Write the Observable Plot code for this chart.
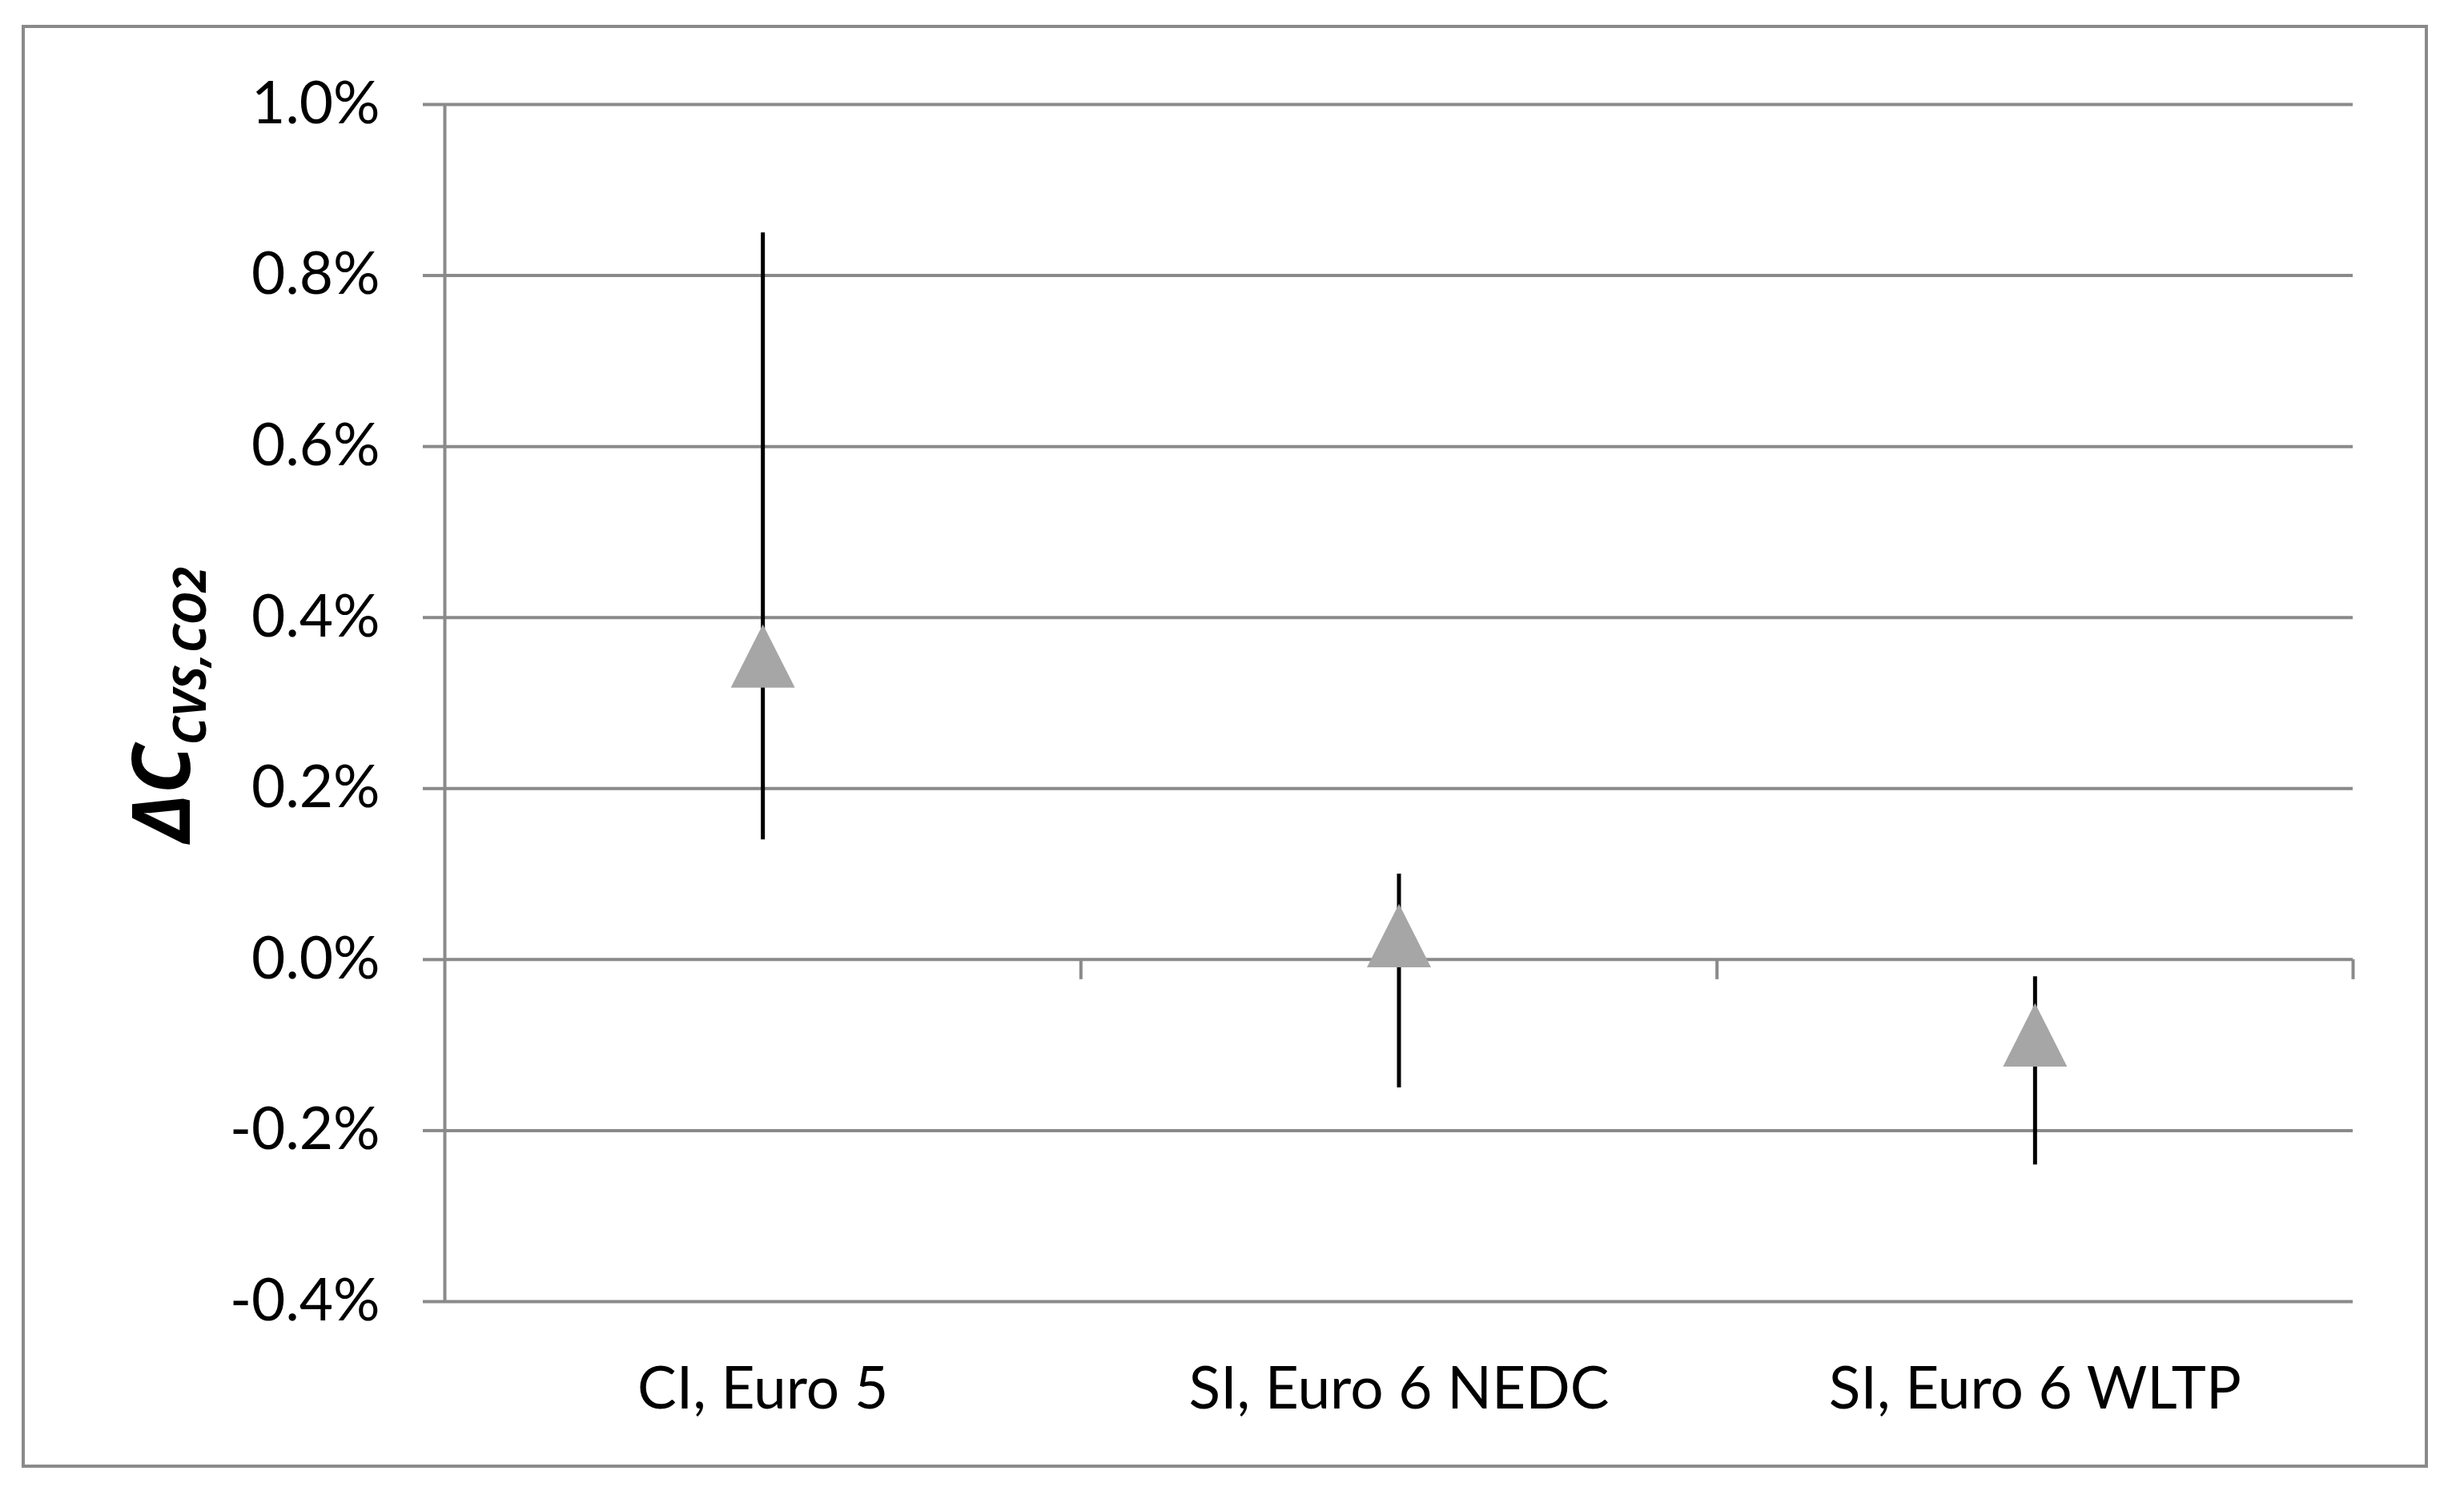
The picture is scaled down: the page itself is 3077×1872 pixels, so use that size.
<!DOCTYPE html>
<html>
<head>
<meta charset="utf-8">
<script src="https://cdn.jsdelivr.net/npm/d3@7"></script>
<script src="https://cdn.jsdelivr.net/npm/@observablehq/plot@0.6"></script>
<style>
  html, body { margin: 0; padding: 0; background: #fff; }
  #wrap { position: relative; width: 3077px; height: 1872px; }
  #frame { position: absolute; left: 27px; top: 31px; width: 3005px; height: 1802px;
           box-sizing: border-box; border: 4px solid #8a8a8a; }
  #chart { position: absolute; left: 0; top: 0; }
</style>
</head>
<body>
<div id="wrap"><div id="frame"></div><div id="chart"></div></div>
<script>
// Data (percent)
const categories = ["CI, Euro 5", "SI, Euro 6 NEDC", "SI, Euro 6 WLTP"];
const meanValues = [0.355, 0.028, -0.088];
const lowValues  = [0.14, -0.15, -0.24];
const highValues = [0.85, 0.10, -0.02];
const yTicks = [-0.4, -0.2, 0.0, 0.2, 0.4, 0.6, 0.8, 1.0];
const categoryBoundaries = [1, 2, 3];

const rows = categories.map((c, i) => ({
  cat: c, pos: i + 0.5, mean: meanValues[i], lo: lowValues[i], hi: highValues[i]
}));

const W = 3077, H = 1872;
const mL = 555, mR = W - 2938, mT = 130, mB = H - 1625;
const plotH = H - mT - mB;
const yDomain = [-0.4, 1.0];
const pxPerUnit = plotH / (yDomain[1] - yDomain[0]);
const xTickLen = 25 / pxPerUnit;

const gray = "#8a8a8a";

// Custom triangle symbol: apex up, bbox centered on the point
const triangle = {
  draw(context, size) {
    const r = Math.sqrt(size / Math.PI);
    const h = r * 0.99;
    context.moveTo(0, -h);
    context.lineTo(r, h);
    context.lineTo(-r, h);
    context.closePath();
  }
};

const plot = Plot.plot({
  width: W,
  height: H,
  marginLeft: mL, marginRight: mR, marginTop: mT, marginBottom: mB,
  style: { fontFamily: "Lato, 'Open Sans', sans-serif", fontSize: "73px", color: "#000", background: "transparent" },
  x: { type: "linear", domain: [0, 3], range: [mL, W - mR] },
  y: { domain: yDomain },
  marks: [
    Plot.ruleY(yTicks, { stroke: gray, strokeWidth: 4 }),
    Plot.ruleX([0], { y1: yDomain[0], y2: yDomain[1], stroke: gray, strokeWidth: 4 }),
    Plot.ruleX(categoryBoundaries, { x: d => d, y1: 0, y2: -xTickLen, stroke: gray, strokeWidth: 4 }),
    Plot.axisY({ ticks: yTicks, tickSize: 27, tickPadding: 54, stroke: gray, strokeWidth: 4,
                 tickFormat: d => d.toFixed(1) + "%", label: null, fill: "#000" }),
    Plot.axisX({ ticks: rows.map(r => r.pos), tickSize: 0, tickPadding: 82,
                 tickFormat: (d) => categories[Math.floor(d)], label: null, fill: "#000" }),
    Plot.ruleX(rows, { x: "pos", y1: "lo", y2: "hi", stroke: "#000", strokeWidth: 5 }),
    Plot.dot(rows, { x: "pos", y: "mean", symbol: triangle, r: 40, fill: "#a6a6a6", stroke: "none" })
  ]
});

document.getElementById("chart").appendChild(plot);

// Y axis title with subscript
const svg = d3.select(plot);
const t = svg.append("text")
  .attr("transform", "translate(237,880) rotate(-90)")
  .attr("text-anchor", "middle")
  .attr("font-family", "'Open Sans', 'DejaVu Sans', sans-serif")
  .attr("font-weight", "bold")
  .attr("font-style", "italic")
  .attr("fill", "#000");
t.append("tspan").attr("font-size", "100px").text("ΔC");
t.append("tspan").attr("font-size", "57px").attr("dy", "20").text("CVS,CO2");
</script>
</body>
</html>
